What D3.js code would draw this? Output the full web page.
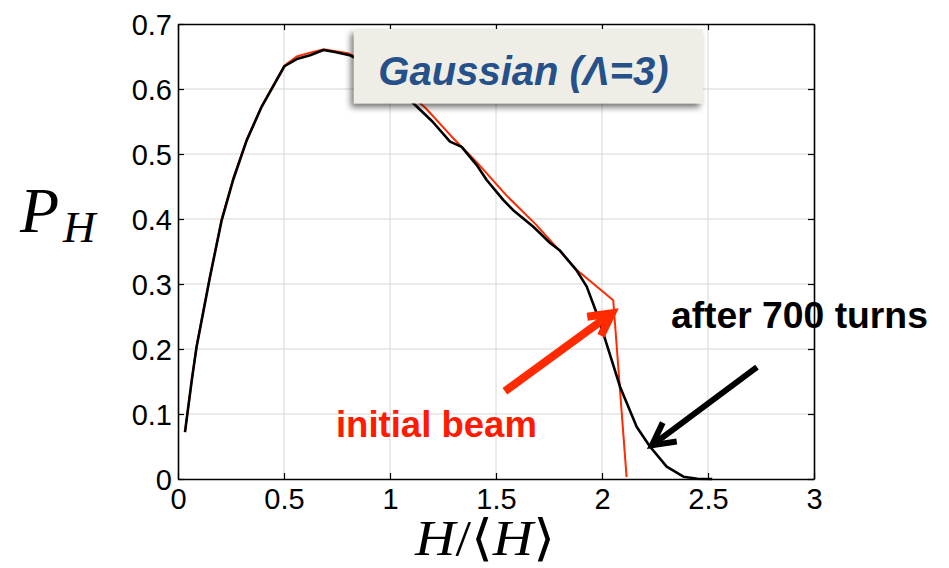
<!DOCTYPE html>
<html>
<head>
<meta charset="utf-8">
<script src="https://cdn.jsdelivr.net/npm/d3@7"></script>
<style>
  html, body { margin: 0; padding: 0; background: #fff; }
  svg { display: block; }
</style>
</head>
<body>
<svg id="chart" width="949" height="568"></svg>
<script>
// Energy distribution P_H versus H/<H>
const xTicks = [0, 0.5, 1, 1.5, 2, 2.5, 3];
const xTickLabels = ["0", "0.5", "1", "1.5", "2", "2.5", "3"];
const yTicks = [0, 0.1, 0.2, 0.3, 0.4, 0.5, 0.6, 0.7];
const yTickLabels = ["0", "0.1", "0.2", "0.3", "0.4", "0.5", "0.6", "0.7"];

// initial beam
const initialH = [0.033, 0.065, 0.088, 0.151, 0.206, 0.26, 0.324, 0.395, 0.502, 0.56, 0.623, 0.686,
  0.80, 0.92, 1.05, 1.17, 1.29, 1.41, 1.55, 1.69, 1.88, 2.053, 2.116];
const initialP = [0.072, 0.152, 0.205, 0.312, 0.400, 0.462, 0.522, 0.574, 0.636, 0.650, 0.656, 0.661,
  0.655, 0.638, 0.605, 0.570, 0.527, 0.487, 0.436, 0.391, 0.322, 0.275, 0.003];

// after 700 turns
const afterH = [0.033, 0.065, 0.088, 0.151, 0.206, 0.26, 0.324, 0.395, 0.502, 0.56, 0.623, 0.686,
  0.74, 0.81, 0.9, 1.0, 1.11, 1.2, 1.283, 1.338, 1.409, 1.456, 1.535, 1.58, 1.676, 1.708, 1.755,
  1.80, 1.88, 1.928, 1.975, 2.006, 2.085, 2.164, 2.226, 2.305, 2.384, 2.45, 2.52];
const afterP = [0.072, 0.152, 0.204, 0.311, 0.398, 0.46, 0.521, 0.573, 0.635, 0.646, 0.652, 0.66,
  0.657, 0.652, 0.636, 0.612, 0.578, 0.55, 0.519, 0.511, 0.483, 0.46, 0.429, 0.414, 0.388, 0.378, 0.363,
  0.352, 0.321, 0.296, 0.255, 0.224, 0.142, 0.080, 0.050, 0.019, 0.0035, 0.0005, 0];

const titleText = "Gaussian (\u039B=3)";
const labelInitial = "initial beam";
const labelAfter = "after 700 turns";

const svg = d3.select("#chart");
const x = d3.scaleLinear().domain([0, 3]).range([178, 814]);
const y = d3.scaleLinear().domain([0, 0.7]).range([479, 24]);

const defs = svg.append("defs");
const shadow = defs.append("filter").attr("id", "boxShadow")
  .attr("x", "-10%").attr("y", "-20%").attr("width", "120%").attr("height", "150%");
shadow.append("feDropShadow").attr("dx", -3).attr("dy", 4)
  .attr("stdDeviation", 3).attr("flood-color", "#000").attr("flood-opacity", 0.55);

// grid
const grid = svg.append("g").attr("stroke", "#d6d6d6").attr("stroke-width", 1);
grid.selectAll("line.gx").data(xTicks.slice(1, -1)).join("line")
  .attr("x1", d => x(d)).attr("x2", d => x(d)).attr("y1", y(0)).attr("y2", y(0.7));
grid.selectAll("line.gy").data(yTicks.slice(1, -1)).join("line")
  .attr("y1", d => y(d)).attr("y2", d => y(d)).attr("x1", x(0)).attr("x2", x(3));

// axes with inward ticks on all four sides
const tickFont = "'Liberation Sans', Arial, sans-serif";
const axB = svg.append("g").attr("transform", `translate(0,${y(0)})`)
  .call(d3.axisBottom(x).tickValues(xTicks).tickFormat((d, i) => xTickLabels[i]).tickSizeInner(-6).tickSizeOuter(0).tickPadding(9));
const axT = svg.append("g").attr("transform", `translate(0,${y(0.7)})`)
  .call(d3.axisTop(x).tickValues(xTicks).tickFormat("").tickSizeInner(-6).tickSizeOuter(0));
const axL = svg.append("g").attr("transform", `translate(${x(0)},0)`)
  .call(d3.axisLeft(y).tickValues(yTicks).tickFormat((d, i) => yTickLabels[i]).tickSizeInner(-6).tickSizeOuter(0).tickPadding(0));
const axR = svg.append("g").attr("transform", `translate(${x(3)},0)`)
  .call(d3.axisRight(y).tickValues(yTicks).tickFormat("").tickSizeInner(-6).tickSizeOuter(0));
[axB, axT, axL, axR].forEach(a => {
  a.select(".domain").attr("stroke", "#000").attr("stroke-width", 1.6);
  a.selectAll(".tick line").attr("stroke", "#000").attr("stroke-width", 1.2);
  a.selectAll(".tick text").attr("fill", "#000").style("font-family", tickFont).style("font-size", "29px");
});
axB.selectAll(".tick text").attr("dy", "0.72em");
axL.selectAll(".tick text").attr("dy", "0.36em").attr("x", -6);

// curves
const line = d3.line().x(d => x(d[0])).y(d => y(d[1]));
svg.append("path").datum(initialH.map((h, i) => [h, initialP[i]]))
  .attr("d", line).attr("fill", "none").attr("stroke", "#ff2a00").attr("stroke-width", 2)
  .attr("stroke-linejoin", "round");
svg.append("path").datum(afterH.map((h, i) => [h, afterP[i]]))
  .attr("d", line).attr("fill", "none").attr("stroke", "#000").attr("stroke-width", 2.6)
  .attr("stroke-linejoin", "round");

// title box
const bx0 = x(0.83), bx1 = x(2.476), by0 = y(0.6923), by1 = y(0.578);
svg.append("rect").attr("x", bx0).attr("y", by0).attr("width", bx1 - bx0).attr("height", by1 - by0)
  .attr("fill", "#efeee6").attr("filter", "url(#boxShadow)");
svg.append("text").attr("x", (bx0 + bx1) / 2 - 5).attr("y", by0 + 56)
  .attr("text-anchor", "middle").attr("fill", "#25508a")
  .style("font-family", "'Liberation Sans', Arial, sans-serif")
  .style("font-weight", "bold").style("font-style", "italic").style("font-size", "40px")
  .text(titleText);

// annotation arrows
function arrow(from, to, color, width) {
  const x0 = x(from[0]), y0 = y(from[1]), x1 = x(to[0]), y1 = y(to[1]);
  const ang = Math.atan2(y0 - y1, x0 - x1);
  const len = 25, spread = 28 * Math.PI / 180;
  const w1 = [x1 + len * Math.cos(ang + spread), y1 + len * Math.sin(ang + spread)];
  const w2 = [x1 + len * Math.cos(ang - spread), y1 + len * Math.sin(ang - spread)];
  const g = svg.append("g").attr("stroke", color).attr("fill", "none").attr("stroke-width", width);
  g.append("line").attr("x1", x0).attr("y1", y0)
    .attr("x2", x1 + 4 * Math.cos(ang)).attr("y2", y1 + 4 * Math.sin(ang));
  g.append("path").attr("d", `M${w1[0]},${w1[1]}L${x1},${y1}L${w2[0]},${w2[1]}`)
    .attr("stroke-linejoin", "miter").attr("stroke-miterlimit", 10);
}
arrow([1.542, 0.135], [2.047, 0.255], "#ff2a00", 8);
arrow([2.731, 0.172], [2.236, 0.052], "#000", 6);

const annFont = "'Liberation Sans', Arial, sans-serif";
svg.append("text").attr("x", x(2.325)).attr("y", y(0.232))
  .attr("fill", "#000").style("font-family", annFont).style("font-weight", "bold")
  .style("font-size", "36px").attr("textLength", 257).attr("lengthAdjust", "spacingAndGlyphs")
  .text(labelAfter);
svg.append("text").attr("x", x(0.745)).attr("y", y(0.065))
  .attr("fill", "#ff1a00").style("font-family", annFont).style("font-weight", "bold")
  .style("font-size", "36px").attr("textLength", 201).attr("lengthAdjust", "spacingAndGlyphs")
  .text(labelInitial);

// axis titles
const mathFont = "'Liberation Serif', 'DejaVu Serif', serif";
const yl = svg.append("text").attr("x", 20).attr("y", 232)
  .style("font-family", mathFont).style("font-style", "italic").attr("fill", "#000");
yl.append("tspan").style("font-size", "64px").text("P");
yl.append("tspan").style("font-size", "45px").attr("dx", 4).attr("dy", 10).text("H");

svg.append("text").attr("x", 485).attr("y", 555).attr("text-anchor", "middle")
  .style("font-family", mathFont).style("font-size", "50px").attr("fill", "#000")
  .attr("textLength", 140).attr("lengthAdjust", "spacingAndGlyphs")
  .html("<tspan font-style='italic'>H</tspan>/\u27E8<tspan font-style='italic'>H</tspan>\u27E9");
</script>
</body>
</html>
